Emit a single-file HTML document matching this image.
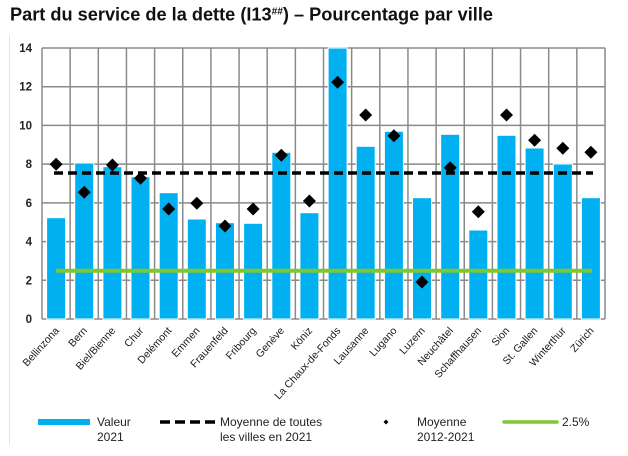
<!DOCTYPE html>
<html><head><meta charset="utf-8"><style>
html,body{margin:0;padding:0;background:#fff;}
svg{display:block;}
text{font-family:"Liberation Sans",Arial,sans-serif;}
</style></head><body>
<svg width="628" height="456" viewBox="0 0 628 456" xmlns="http://www.w3.org/2000/svg">
<rect x="0" y="0" width="628" height="456" fill="#fff"/>
<line x1="9.5" y1="35" x2="9.5" y2="445" stroke="#e4e4e4" stroke-width="1"/>
<text x="10" y="20.5" font-size="18" font-weight="bold" fill="#111" textLength="483" lengthAdjust="spacingAndGlyphs">Part du service de la dette (I13<tspan font-size="10" dy="-6">##</tspan><tspan dy="6">) – Pourcentage par ville</tspan></text>

<!-- grid -->
<g stroke="#8a8a8a" stroke-width="1.5" fill="none">
<line x1="42" y1="48" x2="605" y2="48"/>
<line x1="42" y1="86.7" x2="605" y2="86.7"/>
<line x1="42" y1="125.4" x2="605" y2="125.4"/>
<line x1="42" y1="164.1" x2="605" y2="164.1"/>
<line x1="42" y1="202.9" x2="605" y2="202.9"/>
<line x1="42" y1="241.6" x2="605" y2="241.6"/>
<line x1="42" y1="280.3" x2="605" y2="280.3"/>
<line x1="42" y1="319" x2="605" y2="319"/>
<line x1="42" y1="48" x2="42" y2="319"/>
<line x1="70.15" y1="48" x2="70.15" y2="319"/>
<line x1="98.3" y1="48" x2="98.3" y2="319"/>
<line x1="126.45" y1="48" x2="126.45" y2="319"/>
<line x1="154.6" y1="48" x2="154.6" y2="319"/>
<line x1="182.75" y1="48" x2="182.75" y2="319"/>
<line x1="210.9" y1="48" x2="210.9" y2="319"/>
<line x1="239.05" y1="48" x2="239.05" y2="319"/>
<line x1="267.2" y1="48" x2="267.2" y2="319"/>
<line x1="295.35" y1="48" x2="295.35" y2="319"/>
<line x1="323.5" y1="48" x2="323.5" y2="319"/>
<line x1="351.65" y1="48" x2="351.65" y2="319"/>
<line x1="379.8" y1="48" x2="379.8" y2="319"/>
<line x1="407.95" y1="48" x2="407.95" y2="319"/>
<line x1="436.1" y1="48" x2="436.1" y2="319"/>
<line x1="464.25" y1="48" x2="464.25" y2="319"/>
<line x1="492.4" y1="48" x2="492.4" y2="319"/>
<line x1="520.55" y1="48" x2="520.55" y2="319"/>
<line x1="548.7" y1="48" x2="548.7" y2="319"/>
<line x1="576.85" y1="48" x2="576.85" y2="319"/>
<line x1="605" y1="48" x2="605" y2="319"/>
</g>

<!-- y labels -->
<g font-size="11.5" font-weight="bold" fill="#222" text-anchor="end">
<text x="32" y="52">14</text>
<text x="32" y="90.7">12</text>
<text x="32" y="129.4">10</text>
<text x="32" y="168.1">8</text>
<text x="32" y="206.9">6</text>
<text x="32" y="245.6">4</text>
<text x="32" y="284.3">2</text>
<text x="32" y="323">0</text>
</g>

<!-- bars -->
<g fill="#00B0F0" stroke="#ffffff" stroke-width="1">
<rect x="46.6" y="217.7" width="19" height="101.3"/>
<rect x="74.7" y="163" width="19" height="156"/>
<rect x="102.9" y="166.7" width="19" height="152.3"/>
<rect x="131" y="176.7" width="19" height="142.3"/>
<rect x="159.2" y="192.7" width="19" height="126.3"/>
<rect x="187.3" y="219" width="19" height="100"/>
<rect x="215.5" y="222.7" width="19" height="96.3"/>
<rect x="243.6" y="223.3" width="19" height="95.7"/>
<rect x="271.8" y="152.3" width="19" height="166.7"/>
<rect x="299.9" y="212.7" width="19" height="106.3"/>
<rect x="328.1" y="48" width="19" height="271"/>
<rect x="356.2" y="146.3" width="19" height="172.7"/>
<rect x="384.4" y="131.3" width="19" height="187.7"/>
<rect x="412.5" y="197.7" width="19" height="121.3"/>
<rect x="440.7" y="134.3" width="19" height="184.7"/>
<rect x="468.8" y="230" width="19" height="89"/>
<rect x="497" y="135.3" width="19" height="183.7"/>
<rect x="525.1" y="148" width="19" height="171"/>
<rect x="553.3" y="164" width="19" height="155"/>
<rect x="581.4" y="197.7" width="19" height="121.3"/>
</g>

<!-- lines -->
<line x1="56" y1="270.7" x2="592" y2="270.7" stroke="#7DC832" stroke-width="4"/>
<line x1="54" y1="173" x2="593" y2="173" stroke="#000" stroke-width="3.6" stroke-dasharray="9 5"/>

<!-- diamonds -->
<g fill="#000">
<path d="M56.1,157.8 L62.6,164.3 L56.1,170.8 L49.6,164.3Z"/>
<path d="M84.2,185.8 L90.7,192.3 L84.2,198.8 L77.7,192.3Z"/>
<path d="M112.4,158.5 L118.9,165 L112.4,171.5 L105.9,165Z"/>
<path d="M140.5,171.8 L147,178.3 L140.5,184.8 L134,178.3Z"/>
<path d="M168.7,202.5 L175.2,209 L168.7,215.5 L162.2,209Z"/>
<path d="M196.8,196.8 L203.3,203.3 L196.8,209.8 L190.3,203.3Z"/>
<path d="M225,219.5 L231.5,226 L225,232.5 L218.5,226Z"/>
<path d="M253.1,202.5 L259.6,209 L253.1,215.5 L246.6,209Z"/>
<path d="M281.3,148.8 L287.8,155.3 L281.3,161.8 L274.8,155.3Z"/>
<path d="M309.4,194.5 L315.9,201 L309.4,207.5 L302.9,201Z"/>
<path d="M337.6,75.8 L344.1,82.3 L337.6,88.8 L331.1,82.3Z"/>
<path d="M365.7,108.5 L372.2,115 L365.7,121.5 L359.2,115Z"/>
<path d="M393.9,129.2 L400.4,135.7 L393.9,142.2 L387.4,135.7Z"/>
<path d="M422,275.5 L428.5,282 L422,288.5 L415.5,282Z"/>
<path d="M450.2,161.2 L456.7,167.7 L450.2,174.2 L443.7,167.7Z"/>
<path d="M478.3,205.2 L484.8,211.7 L478.3,218.2 L471.8,211.7Z"/>
<path d="M506.5,108.5 L513,115 L506.5,121.5 L500,115Z"/>
<path d="M534.6,133.8 L541.1,140.3 L534.6,146.8 L528.1,140.3Z"/>
<path d="M562.8,141.8 L569.3,148.3 L562.8,154.8 L556.3,148.3Z"/>
<path d="M590.9,145.8 L597.4,152.3 L590.9,158.8 L584.4,152.3Z"/>
</g>

<!-- x labels -->
<g font-size="10.5" fill="#1a1a1a" text-anchor="end">
<text transform="translate(59.6,331) rotate(-48)">Bellinzona</text>
<text transform="translate(87.7,331) rotate(-48)">Bern</text>
<text transform="translate(115.9,331) rotate(-48)">Biel/Bienne</text>
<text transform="translate(144,331) rotate(-48)">Chur</text>
<text transform="translate(172.2,331) rotate(-48)">Delémont</text>
<text transform="translate(200.3,331) rotate(-48)">Emmen</text>
<text transform="translate(228.5,331) rotate(-48)">Frauenfeld</text>
<text transform="translate(256.6,331) rotate(-48)">Fribourg</text>
<text transform="translate(284.8,331) rotate(-48)">Genève</text>
<text transform="translate(312.9,331) rotate(-48)">Köniz</text>
<text transform="translate(341.1,331) rotate(-48)">La Chaux-de-Fonds</text>
<text transform="translate(369.2,331) rotate(-48)">Lausanne</text>
<text transform="translate(397.4,331) rotate(-48)">Lugano</text>
<text transform="translate(425.5,331) rotate(-48)">Luzern</text>
<text transform="translate(453.7,331) rotate(-48)">Neuchâtel</text>
<text transform="translate(481.8,331) rotate(-48)">Schaffhausen</text>
<text transform="translate(510,331) rotate(-48)">Sion</text>
<text transform="translate(538.1,331) rotate(-48)">St. Gallen</text>
<text transform="translate(566.3,331) rotate(-48)">Winterthur</text>
<text transform="translate(594.4,331) rotate(-48)">Zürich</text>
</g>

<!-- legend -->
<rect x="38" y="419" width="52" height="6" fill="#00B0F0"/>
<line x1="160" y1="422" x2="215" y2="422" stroke="#000" stroke-width="3.6" stroke-dasharray="10 5"/>
<path d="M386,419.5 L388.5,422 L386,424.5 L383.5,422Z" fill="#000"/>
<line x1="504" y1="422" x2="557" y2="422" stroke="#7DC832" stroke-width="3.5" stroke-linecap="round"/>
<g font-size="12" fill="#222">
<text x="97" y="426">Valeur</text>
<text x="97" y="441">2021</text>
<text x="220" y="426">Moyenne de toutes</text>
<text x="220" y="441">les villes en 2021</text>
<text x="417" y="426">Moyenne</text>
<text x="417" y="441">2012-2021</text>
<text x="562" y="426">2.5%</text>
</g>
</svg>
</body></html>
